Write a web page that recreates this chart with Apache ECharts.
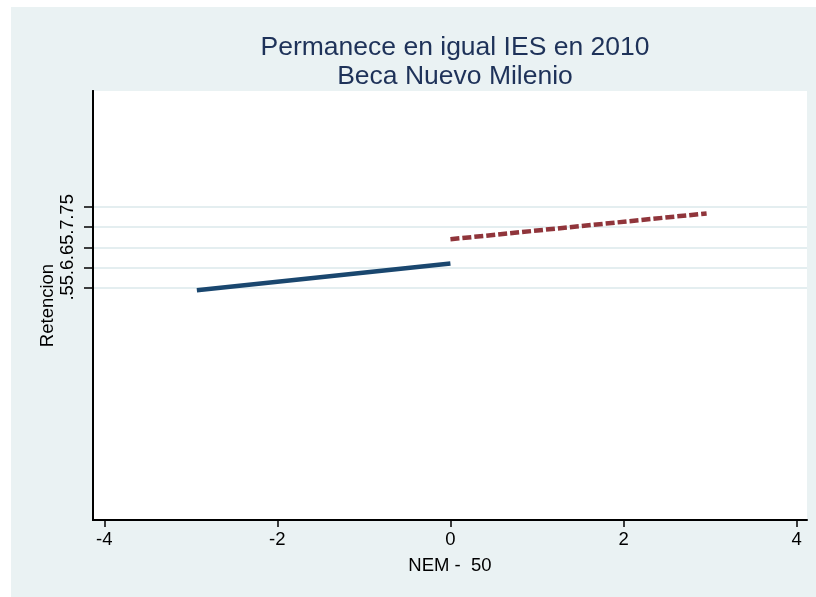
<!DOCTYPE html>
<html>
<head>
<meta charset="utf-8">
<script src="https://cdn.jsdelivr.net/npm/echarts@6/dist/echarts.min.js"></script>
<style>
html,body{margin:0;padding:0;background:#ffffff;}
#bg{position:absolute;left:11px;top:7px;width:805px;height:590px;background:#eaf2f3;}
#chart{position:absolute;left:0;top:0;width:816px;height:597px;}
</style>
</head>
<body>
<div id="bg"></div>
<div id="chart"></div>
<script>
// Data
const titleLines = ["Permanece en igual IES en 2010", "Beca Nuevo Milenio"];
const xTicks = [-4, -2, 0, 2, 4];
const yTicks = [0.55, 0.6, 0.65, 0.7, 0.75];
const belowCutoff = [[-2.93, 0.544], [0, 0.610]];   // solid blue
const aboveCutoff = [[0, 0.670], [2.96, 0.734]];    // dashed red
const xName = "NEM -  50";
const yName = "Retencion";

const font = "'Liberation Sans', Arial, Helvetica, sans-serif";
// The labels overlap in the reference; split them over two coincident axes so none gets hidden
const yTicksA = yTicks.filter((v, i) => i % 2 === 0);
const yTicksB = yTicks.filter((v, i) => i % 2 === 1);

function makeY(ticks, withName) {
  return {
    type: 'value', min: -0.025, max: 1.037, position: 'left', offset: 0,
    name: withName ? yName : '', nameLocation: 'middle', nameGap: 36, nameRotate: 90, nameMoveOverlap: false,
    nameTextStyle: {fontFamily: font, fontSize: 18.5, color: '#000'},
    axisLine: {show: true, onZero: false, lineStyle: {color: '#000', width: 2}},
    axisTick: {show: true, length: 9, customValues: ticks, lineStyle: {color: '#000', width: 1.5}},
    axisLabel: {customValues: ticks, rotate: 90, fontFamily: font, fontSize: 18.5, color: '#000', margin: 16,
      showMinLabel: true, showMaxLabel: true, hideOverlap: false,
      formatter: v => String(v).replace(/^0/, '')},
    splitLine: {show: true, lineStyle: {color: '#e4eef0', width: 2}}
  };
}

const chart = echarts.init(document.getElementById('chart'), null, {renderer: 'canvas'});
chart.setOption({
  backgroundColor: 'transparent',
  animation: false,
  title: {
    text: titleLines.join('\n'),
    left: 450, textAlign: 'center', top: 28,
    textStyle: {fontFamily: font, fontSize: 26.5, fontWeight: 'normal', color: '#1e3259', lineHeight: 29}
  },
  grid: {left: 93, top: 91, right: 9, bottom: 77, show: true, backgroundColor: '#ffffff', borderWidth: 0},
  xAxis: {
    type: 'value', min: -4.13, max: 4.12,
    name: xName, nameLocation: 'middle', nameGap: 36, nameMoveOverlap: false,
    nameTextStyle: {fontFamily: font, fontSize: 18.5, color: '#000'},
    axisLine: {show: true, onZero: false, lineStyle: {color: '#000', width: 2}},
    axisTick: {show: true, length: 7, customValues: xTicks, lineStyle: {color: '#000', width: 1.5}},
    axisLabel: {customValues: xTicks, fontFamily: font, fontSize: 18.5, color: '#000', margin: 10,
      showMinLabel: true, showMaxLabel: true, hideOverlap: false,
      formatter: v => String(v)},
    splitLine: {show: false}
  },
  yAxis: [makeY(yTicksA, true), makeY(yTicksB, false)],
  series: [
    {type: 'line', yAxisIndex: 0, data: belowCutoff, showSymbol: false, symbol: 'none',
      lineStyle: {color: '#1a476f', width: 4.5, cap: 'butt'}},
    {type: 'line', yAxisIndex: 0, data: aboveCutoff, showSymbol: false, symbol: 'none',
      lineStyle: {color: '#90353b', width: 4.5, type: [9, 3], cap: 'butt'}}
  ]
});
</script>
</body>
</html>
